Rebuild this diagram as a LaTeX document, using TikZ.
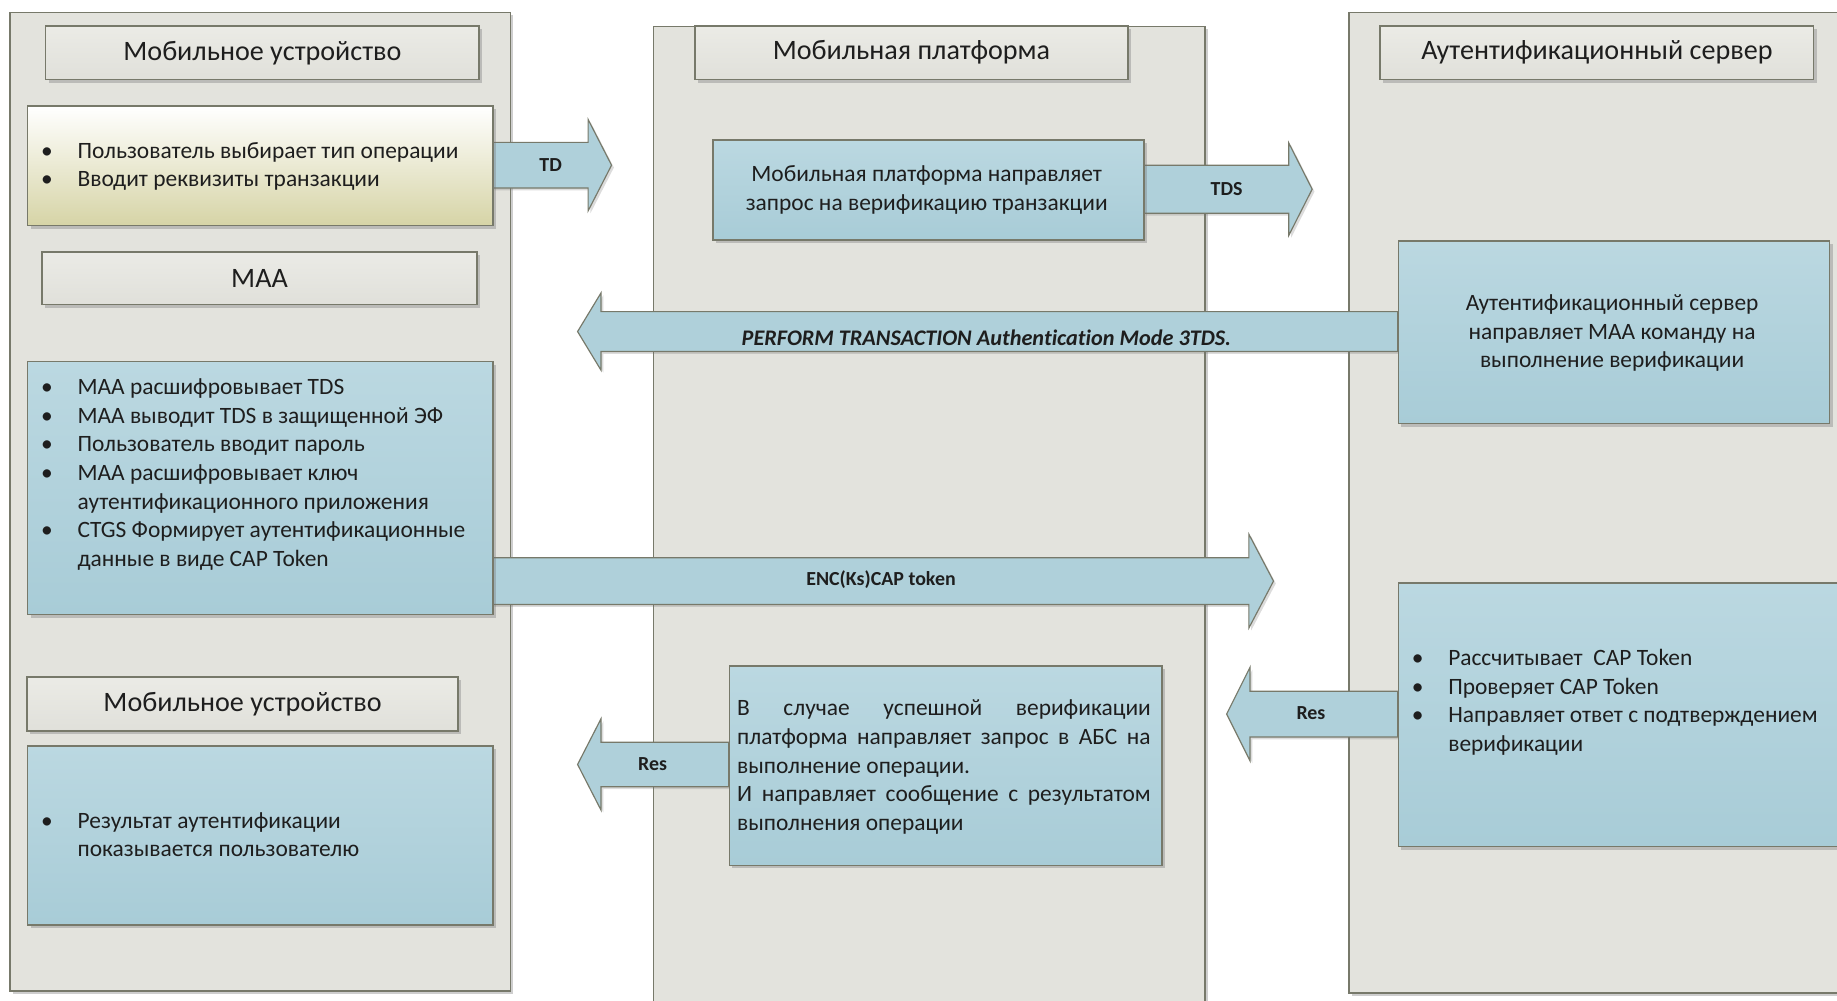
\documentclass[tikz,border=0pt]{standalone}
\usepackage{fontspec}
\setmainfont{Carlito}[Ligatures=NoCommon]
\usetikzlibrary{shadows,calc}
\definecolor{panelfill}{HTML}{E3E3DD}
\definecolor{edge}{HTML}{77796A}
\definecolor{hdrtop}{HTML}{EBEBE6}
\definecolor{hdrbot}{HTML}{E0E0DA}
\definecolor{bluetop}{HTML}{BBD8E1}
\definecolor{bluebot}{HTML}{A8CCD7}
\definecolor{yelbot}{HTML}{D6D4A6}
\definecolor{arrfill}{HTML}{AFD0DA}
\definecolor{txt}{HTML}{1E1E1E}
\newcommand{\bl}[1]{\makebox[31pt][l]{\textbullet}#1}
\newcommand{\cl}[1]{\hspace*{31pt}#1}
\newcommand{\blockarrow}[5]{%
  \path[barrow] let \p1=(#1), \p2=(#2) in
    ({\x1},{\y1+(#3pt)}) -- ({\x2+(#5pt)},{\y1+(#3pt)}) -- ({\x2+(#5pt)},{\y1+(#4pt)})
    -- ({\x2},{\y1}) -- ({\x2+(#5pt)},{\y1-(#4pt)}) -- ({\x2+(#5pt)},{\y1-(#3pt)})
    -- ({\x1},{\y1-(#3pt)}) -- cycle;}
\tikzset{
  shadowed/.style={drop shadow={shadow xshift=2.5pt,shadow yshift=-2.5pt,opacity=.35,fill=black!55}},
  panel/.style={draw=edge, line width=1.3pt, fill=panelfill, anchor=north west, inner sep=0, shadowed},
  hdr/.style={draw=edge, line width=1.3pt, top color=hdrtop, bottom color=hdrbot, inner sep=0,
    font=\fontsize{24}{28}\selectfont, shadowed},
  bbox/.style={draw=edge, line width=1.3pt, top color=bluetop, bottom color=bluebot,
    anchor=north west, inner sep=0, shadowed},
  ybox/.style={bbox, top color=white, bottom color=yelbot},
  barrow/.style={draw=edge, line width=1pt, fill=arrfill,
    drop shadow={shadow xshift=2pt,shadow yshift=-2pt,opacity=.25,fill=black!55}},
  alabel/.style={font=\fontsize{17}{20}\selectfont\bfseries, inner sep=0},
  body/.style={font=\fontsize{20}{24.4}\selectfont, inner sep=0},
}
\begin{document}
\begin{tikzpicture}[x=1pt,y=-1pt, every node/.append style={text=txt}]
\useasboundingbox (0,0) rectangle (1568,854);
\clip (0,0) rectangle (1568,854);
% panels
\node[panel, minimum width=427, minimum height=835] (P1) at (8,10) {};
\node[panel, minimum width=471, minimum height=860] (P2) at (557,22) {};
\node[panel, minimum width=440, minimum height=837] (P3) at (1151,10) {};
% headers
\node[hdr, minimum width=370, minimum height=46] (H1) at (224,45) {\raisebox{-1pt}{Мобильное устройство}};
\node[hdr, minimum width=371, minimum height=45] (H2) at (221.5,237.5) {\raisebox{-1pt}{МАА}};
\node[hdr, minimum width=368, minimum height=46] (H3) at (207,601) {\raisebox{-1pt}{Мобильное устройство}};
\node[hdr, minimum width=370, minimum height=46] (H4) at (778,45) {\raisebox{-1pt}{Мобильная платформа}};
\node[hdr, minimum width=370, minimum height=46] (H5) at (1363,45) {\raisebox{-1pt}{Аутентификационный сервер}};
% arrow anchor coordinates
\coordinate (Yeast) at (420,141);
\coordinate (tdT) at (522,141);
\coordinate (tdsS) at (976,161.5);
\coordinate (tdsT) at (1120,161.5);
\coordinate (pfS) at (1193,283);
\coordinate (pfT) at (493,283);
\coordinate (encS) at (420,496);
\coordinate (encT) at (1087,496);
\coordinate (res1S) at (1193,609.5);
\coordinate (res1T) at (1047,609.5);
\coordinate (res2S) at (622,652.5);
\coordinate (res2T) at (493,652.5);
% arrows
\blockarrow{Yeast}{tdT}{19.5}{39}{-20}
\blockarrow{tdsS}{tdsT}{20.5}{39.5}{-20}
\blockarrow{pfS}{pfT}{17}{33}{20}
\blockarrow{encS}{encT}{20}{40}{-21}
\blockarrow{res1S}{res1T}{19.5}{40}{20}
\blockarrow{res2S}{res2T}{19}{39}{20}
% boxes
\node[ybox, minimum width=397, minimum height=102] (Y) at (23,90) {};
\node[bbox, minimum width=397, minimum height=216] (Bmaa) at (23,308) {};
\node[bbox, minimum width=397, minimum height=153] (Bres) at (23,636) {};
\node[bbox, minimum width=368, minimum height=85] (Bplat) at (608,119) {};
\node[bbox, minimum width=369, minimum height=170] (Bmid) at (622,568) {};
\node[bbox, minimum width=368, minimum height=156] (Bsrv1) at (1193,205) {};
\node[bbox, minimum width=385, minimum height=225] (Bsrv2) at (1193,497) {};
% arrow labels
\node[alabel] (lTD) at (470,141) {TD};
\node[alabel] (lTDS) at (1047,161) {TDS};
\node[alabel, font=\fontsize{19}{22}\selectfont\bfseries\itshape] (lPF) at (842,288) {PERFORM TRANSACTION Authentication Mode 3TDS.};
\node[alabel] (lENC) at (752,495) {ENC(Ks)CAP token};
\node[alabel] (lRes1) at (1119,609) {Res};
\node[alabel] (lRes2) at (557,652) {Res};
% texts
\node[body, anchor=base west] (tY) at (35,135) {\parbox[t]{385pt}{\raggedright
  \bl{Пользователь выбирает тип операции}\\
  \bl{Вводит реквизиты транзакции}}};
\node[body, anchor=base west] (tMaa) at (35,337) {\parbox[t]{385pt}{\raggedright
  \bl{МАА расшифровывает TDS}\\
  \bl{МАА выводит TDS в защищенной ЭФ}\\
  \bl{Пользователь вводит пароль}\\
  \bl{МАА расшифровывает ключ}\\
  \cl{аутентификационного приложения}\\
  \bl{CTGS Формирует аутентификационные}\\
  \cl{данные в виде CAP Token}}};
\node[body, anchor=base west] (tRes) at (35,707) {\parbox[t]{385pt}{\raggedright
  \bl{Результат аутентификации}\\
  \cl{показывается пользователю}}};
\node[body, anchor=base west] (tSrv2) at (1205,568) {\parbox[t]{360pt}{\raggedright
  \bl{Рассчитывает\ \ CAP Token}\\
  \bl{Проверяет CAP Token}\\
  \bl{Направляет ответ с подтверждением}\\
  \cl{верификации}}};
\node[body, anchor=base] (tPlat) at (791,155) {\parbox[t]{360pt}{\centering
  Мобильная платформа направляет\\
  запрос на верификацию транзакции}};
\node[body, anchor=base] (tSrv1) at (1376,265) {\parbox[t]{360pt}{\centering
  Аутентификационный сервер\\
  направляет МАА команду на\\
  выполнение верификации}};
\node[body, anchor=base west] (tMid) at (629,611) {\parbox[t]{353pt}{%
  В случае успешной верификации\linebreak
  платформа направляет запрос в АБС на\linebreak
  выполнение операции.\par
  И направляет сообщение с результатом\linebreak
  выполнения операции}};
\end{tikzpicture}
\end{document}
